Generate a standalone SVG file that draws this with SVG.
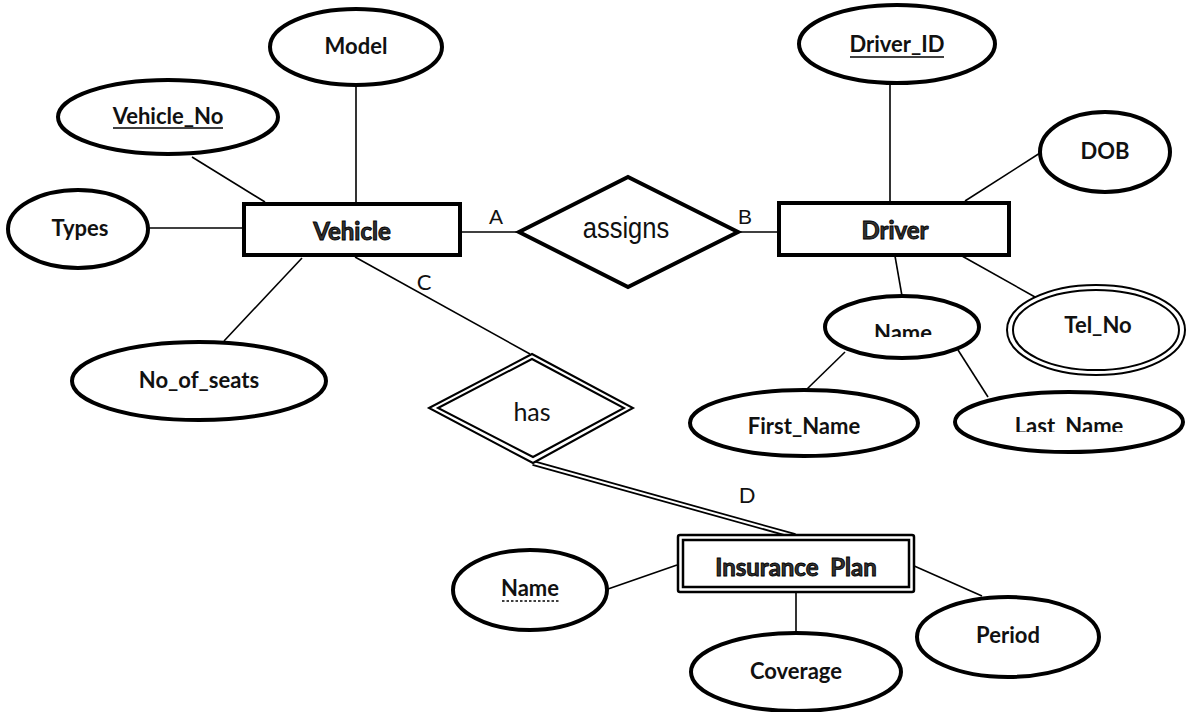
<svg xmlns="http://www.w3.org/2000/svg" width="1187" height="712" viewBox="0 0 1187 712">
<defs>
<style>
.attr{fill:#fff;stroke:#000;stroke-width:4}
.thin{fill:#fff;stroke:#000;stroke-width:2}
.ent{fill:#fff;stroke:#000;stroke-width:4}
.ln{stroke:#000;stroke-width:1.6;fill:none}
.t{font-family:Lato,"Liberation Sans",sans-serif;font-weight:bold;font-size:22px;fill:#111;text-anchor:middle}
.et{font-family:Lato,"Liberation Sans",sans-serif;font-weight:bold;font-size:24px;fill:#333;stroke:#000;stroke-width:0.9;text-anchor:middle}
.rel{font-family:"Liberation Sans",Arial,sans-serif;font-size:29px;fill:#111;text-anchor:middle}
.lbl{font-family:"Liberation Sans",Arial,sans-serif;font-size:21px;fill:#111;text-anchor:middle}
.lbl2{font-family:Lato,"Liberation Sans",sans-serif;font-size:22px;fill:#111;text-anchor:middle}
</style>
<clipPath id="clipName"><rect x="820" y="290" width="160" height="47"/></clipPath>
<clipPath id="clipLast"><rect x="950" y="390" width="240" height="42"/></clipPath>
</defs>
<rect width="1187" height="712" fill="#fff"/>

<g id="connectors">
<line class="ln" x1="192" y1="157" x2="265" y2="202"/>
<line class="ln" x1="356" y1="85" x2="356" y2="202"/>
<line class="ln" x1="148" y1="228" x2="242" y2="228"/>
<line class="ln" x1="302" y1="258" x2="224" y2="341"/>
<line class="ln" x1="462" y1="232" x2="519" y2="232"/>
<line class="ln" x1="738" y1="232" x2="778" y2="232"/>
<line class="ln" x1="890" y1="83" x2="890" y2="202"/>
<line class="ln" x1="1040" y1="153" x2="965" y2="201"/>
<line class="ln" x1="895" y1="256" x2="902" y2="296"/>
<line class="ln" x1="962" y1="256" x2="1035" y2="297"/>
<line class="ln" x1="845" y1="352" x2="807" y2="389"/>
<line class="ln" x1="958" y1="350" x2="988" y2="397"/>
<line class="ln" x1="355" y1="257" x2="530" y2="354"/>
<line stroke="#000" stroke-width="5.5" x1="533" y1="463" x2="795" y2="536"/>
<line stroke="#fff" stroke-width="2" x1="533" y1="463" x2="795" y2="536"/>
<line class="ln" x1="608" y1="589" x2="677" y2="565"/>
<line class="ln" x1="796" y1="592" x2="796" y2="632"/>
<line class="ln" x1="912" y1="565" x2="982" y2="596"/>
<text class="lbl" x="496" y="224">A</text>
<text class="lbl" x="745" y="224">B</text>
<text class="lbl2" x="424" y="290">C</text>
<text class="lbl2" x="747" y="503">D</text>
</g>

<g id="vehicle">
<rect class="ent" x="244" y="204" width="216" height="51"/>
<text class="et" x="352" y="240">Vehicle</text>
</g>
<g id="model">
<ellipse class="attr" cx="356" cy="47" rx="86" ry="38"/>
<text class="t" x="356" y="54">Model</text>
</g>
<g id="vehicle_no">
<ellipse class="attr" cx="168" cy="117" rx="110" ry="37"/>
<text class="t" x="168" y="124">Vehicle_No</text>
<line x1="113" y1="128" x2="223" y2="128" stroke="#000" stroke-width="1.5"/>
</g>
<g id="types">
<ellipse class="attr" cx="78" cy="229" rx="70" ry="39"/>
<text class="t" x="80" y="236">Types</text>
</g>
<g id="no_of_seats">
<ellipse class="attr" cx="199" cy="381" rx="127" ry="39"/>
<text class="t" x="199" y="388">No_of_seats</text>
</g>
<g id="assigns">
<polygon points="519,232 628,177 738,232 628,287" fill="#fff" stroke="#000" stroke-width="4"/>
<text class="rel" transform="translate(626,238) scale(0.88,1)" x="0" y="0">assigns</text>
</g>
<g id="driver">
<rect class="ent" x="779" y="203" width="230" height="52"/>
<text class="et" x="895" y="239">Driver</text>
</g>
<g id="driver_id">
<ellipse class="attr" cx="897" cy="44" rx="98" ry="39"/>
<text class="t" x="897" y="52">Driver_ID</text>
<line x1="850" y1="57" x2="944" y2="57" stroke="#000" stroke-width="1.5"/>
</g>
<g id="dob">
<ellipse class="attr" cx="1105" cy="152" rx="65" ry="40"/>
<text class="t" x="1105" y="159">DOB</text>
</g>
<g id="name">
<ellipse class="attr" cx="902" cy="327" rx="77" ry="31"/>
<text class="t" x="903" y="341" clip-path="url(#clipName)">Name</text>
</g>
<g id="tel_no">
<ellipse class="thin" cx="1096" cy="330" rx="89" ry="45"/>
<ellipse class="thin" cx="1096" cy="330" rx="83" ry="40"/>
<text class="t" x="1098" y="333">Tel_No</text>
</g>
<g id="first_name">
<ellipse class="attr" cx="804" cy="423" rx="114" ry="33"/>
<text class="t" x="804" y="434">First_Name</text>
</g>
<g id="last_name">
<ellipse class="attr" cx="1069" cy="422" rx="114" ry="30"/>
<text class="t" x="1069" y="434" clip-path="url(#clipLast)">Last_Name</text>
</g>
<g id="has">
<polygon points="429,408 532,354 633,408 533,463" fill="#fff" stroke="#000" stroke-width="2"/>
<polygon points="438,408 532,359 624,408 533,457" fill="none" stroke="#000" stroke-width="2"/>
<text class="lbl2" x="532" y="421" style="font-size:25px">has</text>
</g>
<g id="insurance_plan">
<rect x="678" y="535" width="236" height="57" fill="#fff" stroke="#000" stroke-width="2.5" rx="2"/>
<rect x="683" y="540" width="226" height="47" fill="none" stroke="#000" stroke-width="2.5"/>
<text class="et" x="796" y="576" xml:space="preserve">Insurance  Plan</text>
</g>
<g id="ip_name">
<ellipse class="attr" cx="530" cy="590" rx="77" ry="40"/>
<text class="t" x="530" y="596">Name</text>
<line x1="502" y1="601" x2="559" y2="601" stroke="#000" stroke-width="1.3" stroke-dasharray="2.5,2"/>
</g>
<g id="coverage">
<ellipse class="attr" cx="796" cy="672" rx="105" ry="39"/>
<text class="t" x="796" y="679">Coverage</text>
</g>
<g id="period">
<ellipse class="attr" cx="1008" cy="637" rx="91" ry="40"/>
<text class="t" x="1008" y="643">Period</text>
</g>
</svg>
